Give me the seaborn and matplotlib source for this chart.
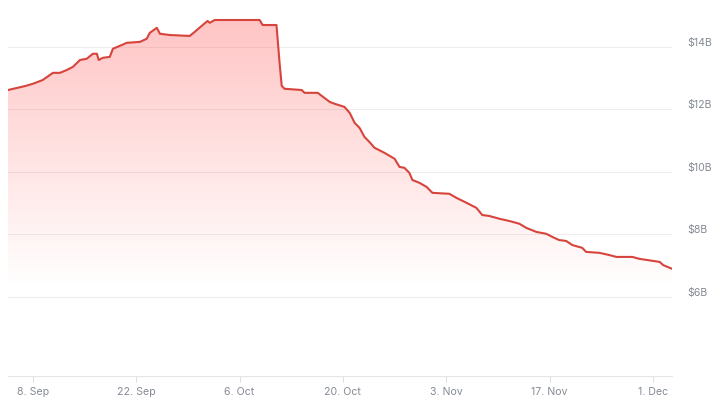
import numpy as np
import pandas as pd
import seaborn as sns
import matplotlib.pyplot as plt
import matplotlib.dates as mdates
import matplotlib.transforms as mtransforms
from matplotlib.ticker import FuncFormatter

# values (billions USD)
dates = [
    "2025-09-04 15:00", "2025-09-07 00:00", "2025-09-08 00:00", "2025-09-09 08:00",
    "2025-09-10 07:00", "2025-09-10 17:00", "2025-09-11 16:00", "2025-09-12 14:00",
    "2025-09-13 10:00", "2025-09-14 09:00", "2025-09-15 07:00", "2025-09-16 03:00",
    "2025-09-16 16:00", "2025-09-16 22:00", "2025-09-17 11:00", "2025-09-18 10:00",
    "2025-09-18 20:00", "2025-09-19 18:00", "2025-09-20 17:00", "2025-09-22 12:00",
    "2025-09-23 10:00", "2025-09-23 20:00", "2025-09-24 19:00", "2025-09-25 05:00",
    "2025-09-26 13:00", "2025-09-29 06:00", "2025-09-29 22:00", "2025-10-01 00:00",
    "2025-10-01 16:00", "2025-10-01 23:00", "2025-10-02 15:00", "2025-10-08 17:00",
    "2025-10-09 03:00", "2025-10-11 00:00", "2025-10-11 10:00", "2025-10-11 17:00",
    "2025-10-12 02:00", "2025-10-14 10:00", "2025-10-14 19:00", "2025-10-16 14:00",
    "2025-10-18 05:00", "2025-10-18 21:00", "2025-10-20 05:00", "2025-10-20 22:00",
    "2025-10-21 14:00", "2025-10-22 06:00", "2025-10-22 22:00", "2025-10-23 14:00",
    "2025-10-24 07:00", "2025-10-25 15:00", "2025-10-27 00:00", "2025-10-27 16:00",
    "2025-10-28 08:00", "2025-10-29 00:00", "2025-10-29 10:00", "2025-10-30 09:00",
    "2025-10-31 08:00", "2025-11-01 03:00", "2025-11-03 10:00", "2025-11-04 09:00",
    "2025-11-05 18:00", "2025-11-07 02:00", "2025-11-07 21:00", "2025-11-08 20:00",
    "2025-11-10 05:00", "2025-11-11 13:00", "2025-11-12 22:00", "2025-11-13 20:00",
    "2025-11-15 05:00", "2025-11-16 13:00", "2025-11-17 09:00", "2025-11-18 07:00",
    "2025-11-19 06:00", "2025-11-20 02:00", "2025-11-21 10:00", "2025-11-21 23:00",
    "2025-11-23 18:00", "2025-11-25 02:00", "2025-11-26 01:00", "2025-11-28 05:00",
    "2025-11-29 03:00", "2025-12-01 22:00", "2025-12-02 09:00", "2025-12-03 14:00",
]
values = [
    12.62, 12.75, 12.82, 12.94, 13.10, 13.17, 13.17, 13.26,
    13.36, 13.58, 13.62, 13.78, 13.78, 13.58, 13.65, 13.68,
    13.94, 14.03, 14.13, 14.16, 14.26, 14.45, 14.61, 14.42,
    14.38, 14.35, 14.48, 14.70, 14.83, 14.77, 14.86, 14.86,
    14.70, 14.70, 13.49, 12.75, 12.66, 12.62, 12.53, 12.53,
    12.24, 12.18, 12.08, 11.89, 11.57, 11.41, 11.12, 10.96,
    10.77, 10.61, 10.42, 10.16, 10.13, 9.97, 9.74, 9.65,
    9.52, 9.33, 9.30, 9.17, 9.01, 8.85, 8.62, 8.59,
    8.50, 8.43, 8.34, 8.21, 8.08, 8.02, 7.92, 7.82,
    7.79, 7.66, 7.57, 7.44, 7.41, 7.34, 7.28, 7.28,
    7.22, 7.12, 7.02, 6.90,
]
tick_dates = ["2025-09-08", "2025-09-22", "2025-10-06", "2025-10-20",
              "2025-11-03", "2025-11-17", "2025-12-01"]
y_ticks = [6, 8, 10, 12, 14]

df = pd.DataFrame({"date": pd.to_datetime(dates), "value": values})

sns.set_theme(style="white")
plt.rcParams["font.family"] = ["Inter", "DejaVu Sans"]

line_color = "#d6443c"
text_color = "#858b94"

fig = plt.figure(figsize=(7.2, 4.05), dpi=100)
ax = fig.add_axes([8 / 720, 29 / 405, 664 / 720, 376 / 405])

ymin, ymax = 3.47, 15.5

# gradient fill under the line, clipped to the area polygon
poly = ax.fill_between(df["date"], df["value"], ymin, color="none", lw=0)
x0 = mdates.date2num(df["date"].iloc[0])
x1 = mdates.date2num(df["date"].iloc[-1])
levels = np.linspace(ymax, ymin, 300)
alpha = np.clip((levels - 6.3) / (ymax - 6.3), 0, 1) * 0.36
grad = np.zeros((300, 1, 4))
grad[:, 0, 0] = 1.0
grad[:, 0, 1] = 0.32
grad[:, 0, 2] = 0.32
grad[:, 0, 3] = alpha
img = ax.imshow(grad, aspect="auto", extent=[x0, x1, ymin, ymax],
                origin="upper", zorder=1)
img.set_clip_path(poly.get_paths()[0], transform=ax.transData)

sns.lineplot(data=df, x="date", y="value", ax=ax, color=line_color,
             linewidth=1.5, zorder=3)

ax.set_xlim(df["date"].iloc[0], df["date"].iloc[-1])
ax.set_ylim(ymin, ymax)

ax.yaxis.tick_right()
ax.set_yticks(y_ticks)
ax.yaxis.set_major_formatter(FuncFormatter(lambda v, p: f"\\${v:.0f}B"))
ax.tick_params(axis="y", length=0, pad=11, labelsize=7.6, labelcolor=text_color)
ax.grid(axis="y", color="#ededed", linewidth=0.8)
ax.grid(axis="x", visible=False)

# y labels sit a little above their grid lines
shift = mtransforms.ScaledTranslation(0, 0.05, fig.dpi_scale_trans)
for lab in ax.get_yticklabels():
    lab.set_transform(lab.get_transform() + shift)

ax.set_xticks(pd.to_datetime(tick_dates))
ax.xaxis.set_major_formatter(mdates.DateFormatter("%-d. %b"))
ax.tick_params(axis="x", length=4, width=0.8, color="#e0e0e0", pad=4,
               labelsize=7.6, labelcolor=text_color, bottom=True)

for side in ["top", "left", "right"]:
    ax.spines[side].set_visible(False)
ax.spines["bottom"].set_color("#e6e6e6")
ax.spines["bottom"].set_linewidth(0.8)

ax.set_xlabel("")
ax.set_ylabel("")
ax.set_axisbelow(True)

fig.savefig("out.png", dpi=100)
